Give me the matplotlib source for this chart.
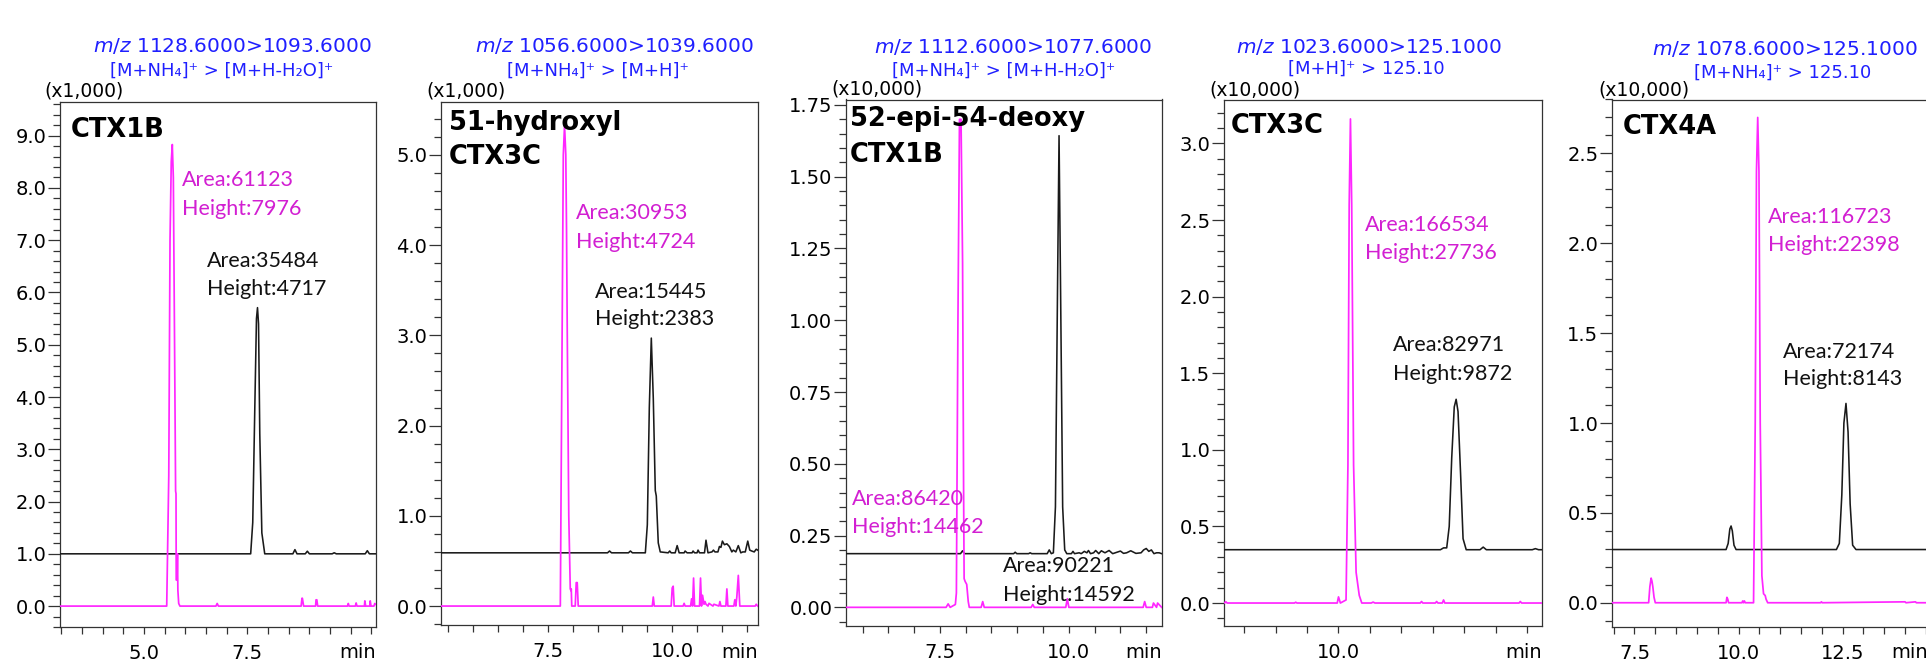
import matplotlib
matplotlib.use("Agg")
import matplotlib.pyplot as plt
from matplotlib.ticker import MultipleLocator, FixedLocator, FormatStrFormatter

plt.rcParams['font.family'] = ['DejaVu Sans']
plt.rcParams['mathtext.fontset'] = 'dejavusans'

# ---------------- data (time in min, intensity in axis units) ----------------
# Panel 1: CTX1B (x1,000)
p1_black_t = [2.97, 7.58, 7.63, 7.68, 7.72, 7.745, 7.77, 7.80, 7.85, 7.92, 8.60, 8.65, 8.70, 8.90, 8.95, 9.00,
              9.55, 9.60, 9.65, 10.35, 10.40, 10.45, 10.61]
p1_black_y = [1.0, 1.0, 1.6, 3.8, 5.5, 5.71, 5.4, 3.3, 1.4, 1.0, 1.0, 1.08, 1.0, 1.0, 1.05, 1.0,
              1.0, 1.02, 1.0, 1.0, 1.06, 1.0, 1.0]
p1_mag_t = [2.97, 5.55, 5.60, 5.63, 5.66, 5.685, 5.71, 5.74, 5.765, 5.775, 5.78, 5.80, 5.81, 5.82, 5.84, 5.87,
            6.74, 6.77, 6.80, 8.80, 8.82, 8.83, 8.86, 9.15, 9.16, 9.18, 9.20, 9.92, 9.94, 9.96, 10.11, 10.13,
            10.15, 10.33, 10.34, 10.36, 10.46, 10.47, 10.49, 10.56, 10.58, 10.61]
p1_mag_y = [0, 0, 2.5, 7.0, 8.5, 8.83, 8.2, 5.0, 2.2, 2.15, 0.5, 0.5, 1.0, 0.3, 0.05, 0,
            0, 0.05, 0, 0, 0.15, 0.15, 0, 0, 0.12, 0.12, 0, 0, 0.05, 0, 0, 0.06,
            0, 0, 0.1, 0, 0, 0.1, 0, 0, 0.05, 0.03]

# Panel 2: 51-hydroxyl CTX3C (x1,000)
p2_black_t = [5.35, 8.70, 8.74, 8.78, 9.12, 9.16, 9.20, 9.46, 9.50, 9.54, 9.58, 9.62, 9.66, 9.68, 9.72, 9.76,
              9.92, 9.95, 9.98, 10.06, 10.10, 10.14, 10.24, 10.26, 10.30, 10.40, 10.42, 10.45, 10.50, 10.52,
              10.55, 10.65, 10.68, 10.72, 10.80, 10.83, 10.86, 10.92, 10.95, 10.98, 11.01, 11.05, 11.10, 11.15,
              11.20, 11.23, 11.28, 11.33, 11.38, 11.42, 11.47, 11.52, 11.56, 11.60, 11.65, 11.69, 11.72]
p2_black_y = [0.59, 0.59, 0.61, 0.59, 0.59, 0.61, 0.59, 0.59, 0.9, 2.2, 2.97, 2.3, 1.28, 1.22, 0.7, 0.6,
              0.59, 0.61, 0.59, 0.59, 0.67, 0.59, 0.59, 0.61, 0.59, 0.59, 0.61, 0.59, 0.59, 0.62,
              0.59, 0.59, 0.73, 0.59, 0.6, 0.62, 0.6, 0.6, 0.66, 0.65, 0.72, 0.68, 0.69, 0.66,
              0.6, 0.62, 0.6, 0.67, 0.59, 0.60, 0.6, 0.72, 0.62, 0.61, 0.6, 0.63, 0.62]
p2_mag_t = [5.35, 7.75, 7.78, 7.81, 7.835, 7.86, 7.875, 7.89, 7.92, 7.95, 7.965, 7.97, 7.98, 8.05, 8.07, 8.09,
            8.11, 9.60, 9.62, 9.64, 9.98, 10.0, 10.02, 10.04, 10.22, 10.24, 10.26, 10.37, 10.39, 10.41, 10.43,
            10.45, 10.55, 10.57, 10.59, 10.61, 10.64, 10.66, 10.68, 10.72, 10.74, 10.82, 10.84, 10.94, 10.96,
            10.98, 11.08, 11.10, 11.12, 11.24, 11.26, 11.28, 11.30, 11.33, 11.36, 11.67, 11.69, 11.72]
p2_mag_y = [0, 0, 2.5, 5.0, 5.33, 5.0, 4.15, 3.0, 1.0, 0.19, 0.17, 0.19, 0, 0, 0.26, 0.26,
            0, 0, 0.1, 0, 0, 0.2, 0.22, 0, 0, 0.03, 0, 0, 0.08, 0, 0.31,
            0, 0, 0.31, 0, 0.12, 0.02, 0.05, 0.02, 0, 0.03, 0, 0.02, 0, 0.05,
            0, 0, 0.19, 0, 0, 0.07, 0, 0.1, 0.34, 0, 0, 0.02, 0]

# Panel 3: 52-epi-54-deoxy CTX1B (x10,000)
p3_black_t = [5.68, 7.90, 7.94, 7.98, 8.93, 8.96, 8.99, 9.22, 9.25, 9.28, 9.58, 9.62, 9.66, 9.70, 9.74, 9.78,
              9.81, 9.84, 9.88, 9.92, 9.96, 10.05, 10.08, 10.11, 10.2, 10.24, 10.3, 10.35, 10.38, 10.42, 10.48,
              10.52, 10.58, 10.63, 10.7, 10.78, 10.85, 10.9, 11.0, 11.06, 11.12, 11.2, 11.3, 11.4, 11.45, 11.5,
              11.55, 11.6, 11.65, 11.7, 11.75, 11.8]
p3_black_y = [0.187, 0.187, 0.197, 0.187, 0.187, 0.192, 0.187, 0.187, 0.19, 0.187, 0.187, 0.2, 0.187, 0.19,
              0.35, 1.1, 1.643, 1.1, 0.35, 0.2, 0.187, 0.187, 0.195, 0.187, 0.19, 0.187, 0.195, 0.19, 0.198,
              0.187, 0.19, 0.198, 0.187, 0.197, 0.19, 0.198, 0.187, 0.19, 0.196, 0.188, 0.19, 0.197, 0.188,
              0.19, 0.2, 0.205, 0.195, 0.2, 0.187, 0.19, 0.19, 0.187]
p3_mag_t = [5.68, 7.62, 7.66, 7.70, 7.80, 7.82, 7.85, 7.88, 7.91, 7.94, 7.96, 7.97, 7.99, 8.02, 8.05, 8.07,
            8.30, 8.33, 8.36, 9.27, 9.30, 9.33, 9.94, 9.97, 10.0, 11.44, 11.47, 11.50, 11.62, 11.64, 11.70,
            11.72, 11.80]
p3_mag_y = [0, 0, 0.012, 0, 0.01, 0.05, 1.0, 1.70, 1.70, 1.2, 0.4, 0.10, 0.09, 0.08, 0.02, 0,
            0, 0.02, 0, 0, 0.01, 0, 0, 0.03, 0, 0, 0.02, 0, 0, 0.015, 0, 0.015, 0]

# Panel 4: CTX3C (x10,000)
p4_black_t = [8.18, 11.62, 11.67, 11.72, 11.76, 11.80, 11.84, 11.87, 11.90, 11.94, 11.98, 12.03, 12.25, 12.30,
              12.35, 13.08, 13.13, 13.18, 13.23]
p4_black_y = [0.348, 0.348, 0.36, 0.36, 0.5, 0.95, 1.28, 1.33, 1.25, 0.85, 0.42, 0.348, 0.348, 0.365,
              0.348, 0.348, 0.355, 0.348, 0.348]
p4_mag_t = [8.18, 8.21, 8.23, 8.25, 9.30, 9.32, 9.34, 9.98, 10.0, 10.03, 10.12, 10.15, 10.17, 10.19, 10.21,
            10.24, 10.28, 10.33, 10.37, 10.52, 10.55, 10.58, 11.30, 11.32, 11.34, 11.54, 11.56, 11.58, 11.65,
            11.67, 11.69, 12.87, 12.89, 12.91, 13.23]
p4_mag_y = [0, 0.008, 0, 0, 0, 0.005, 0, 0, 0.04, 0, 0.02, 0.9, 2.6, 3.16, 2.6,
            0.9, 0.2, 0.05, 0, 0, 0.006, 0, 0, 0.01, 0, 0, 0.01, 0, 0,
            0.02, 0, 0, 0.01, 0, 0]

# Panel 5: CTX4A (x10,000)
p5_black_t = [6.96, 9.70, 9.75, 9.79, 9.82, 9.85, 9.89, 9.94, 12.35, 12.42, 12.48, 12.53, 12.58, 12.63, 12.68,
              12.74, 12.82, 14.55]
p5_black_y = [0.296, 0.296, 0.33, 0.41, 0.427, 0.40, 0.32, 0.296, 0.296, 0.33, 0.6, 1.0, 1.109, 0.95, 0.55,
              0.32, 0.296, 0.296]
p5_mag_t = [6.96, 7.84, 7.87, 7.90, 7.92, 7.94, 7.97, 8.00, 9.70, 9.72, 9.74, 9.76, 10.08, 10.10, 10.12, 10.14,
            10.16, 10.36, 10.40, 10.43, 10.46, 10.49, 10.52, 10.56, 10.60, 10.64, 10.66, 10.70, 11.97, 11.99,
            12.01, 14.0, 14.02, 14.25, 14.27, 14.55]
p5_mag_y = [0, 0, 0.09, 0.137, 0.12, 0.09, 0.03, 0, 0, 0.03, 0.02, 0, 0, 0.01, 0, 0.01,
            0, 0, 1.0, 2.4, 2.70, 2.4, 1.0, 0.15, 0.05, 0.04, 0.02, 0, 0, 0.005,
            0, 0.005, 0, 0.005, 0, 0]

# texts
titles_mz = [r"$\mathit{m/z}$ 1128.6000>1093.6000", r"$\mathit{m/z}$ 1056.6000>1039.6000",
             r"$\mathit{m/z}$ 1112.6000>1077.6000", r"$\mathit{m/z}$ 1023.6000>125.1000",
             r"$\mathit{m/z}$ 1078.6000>125.1000"]
titles_ion = ["[M+NH\u2084]\u207a > [M+H-H\u2082O]\u207a", "[M+NH\u2084]\u207a > [M+H]\u207a",
              "[M+NH\u2084]\u207a > [M+H-H\u2082O]\u207a", "[M+H]\u207a > 125.10",
              "[M+NH\u2084]\u207a > 125.10"]
scale_labels = ["(x1,000)", "(x1,000)", "(x10,000)", "(x10,000)", "(x10,000)"]
compound_names = [["CTX1B"], ["51-hydroxyl", "CTX3C"], ["52-epi-54-deoxy", "CTX1B"], ["CTX3C"], ["CTX4A"]]
mag_labels = [["Area:61123", "Height:7976"], ["Area:30953", "Height:4724"], ["Area:86420", "Height:14462"],
              ["Area:166534", "Height:27736"], ["Area:116723", "Height:22398"]]
black_labels = [["Area:35484", "Height:4717"], ["Area:15445", "Height:2383"], ["Area:90221", "Height:14592"],
                ["Area:82971", "Height:9872"], ["Area:72174", "Height:8143"]]
x_label_ticks = [[5.0, 7.5], [7.5, 10.0], [7.5, 10.0], [10.0], [7.5, 10.0, 12.5]]
x_lims = [(2.97, 10.61), (5.35, 11.72), (5.68, 11.80), (8.18, 13.23), (6.96, 14.55)]
y_lims = [(-0.40, 9.65), (-0.21, 5.59), (-0.065, 1.769), (-0.150, 3.287), (-0.135, 2.80)]
y_major = [1.0, 1.0, 0.25, 0.5, 0.5]
y_minor = [0.2, 0.2, 0.05, 0.1, 0.1]
y_fmt = ["%.1f", "%.1f", "%.2f", "%.1f", "%.1f"]

series = [(p1_black_t, p1_black_y, p1_mag_t, p1_mag_y),
          (p2_black_t, p2_black_y, p2_mag_t, p2_mag_y),
          (p3_black_t, p3_black_y, p3_mag_t, p3_mag_y),
          (p4_black_t, p4_black_y, p4_mag_t, p4_mag_y),
          (p5_black_t, p5_black_y, p5_mag_t, p5_mag_y)]

# ---------------- layout (pixels) ----------------
W, H = 1926, 665
boxes = [(60, 376, 101.7, 627), (441, 757.7, 101.7, 625), (846, 1161.7, 99.5, 626),
         (1224, 1541.7, 99.5, 626), (1612, 1928, 99.5, 627)]
title1_pos = [(232.5, 45.5), (614, 45.5), (1013, 46.6), (1369, 46.6), (1785, 49.0)]
title2_pos = [(221.7, 70.7), (597.5, 71), (1003.7, 71.2), (1366.7, 68.5), (1782.7, 72.5)]
scale_pos = [(84, 90.7), (465.8, 91), (876.7, 89), (1255, 89.8), (1643.5, 89.8)]
name_pos = [(71, [130]), (449, [122.9, 156.8]), (850, [119.5, 154.7]), (1231, [126.3]), (1622.5, [127.1])]
mag_pos = [(181.7, [180, 209]), (575.7, [213, 242.4]), (851.7, [498.7, 526.7]), (1365, [225.4, 253.4]),
           (1767.7, [216.9, 244.9])]
blk_pos = [(207.3, [261.4, 289.4]), (595, [291.5, 318.6]), (1003.3, [566.5, 595.3]), (1393.3, [345.3, 373.7]),
           (1782.7, [351.7, 379.2])]

BLUE = "#1f1fff"
MAG_LINE = "#ff26ff"
MAG_TEXT = "#d21fd2"
BLACK = "#1a1a1a"
TEXT_FONT = ["Lato", "DejaVu Sans"]
TICK_SIZE = 14

fig = plt.figure(figsize=(W / 100, H / 100), dpi=100)


def ftext(x, y, s, **kw):
    return fig.text(x / W, 1 - y / H, s, **kw)


for i in range(5):
    l, r, t, b = boxes[i]
    ax = fig.add_axes([l / W, 1 - b / H, (r - l) / W, (b - t) / H])
    bt, by, mt, my = series[i]
    ax.plot(bt, by, color=BLACK, lw=1.15, zorder=3)
    ax.plot(mt, my, color=MAG_LINE, lw=1.25, zorder=4)
    ax.set_xlim(*x_lims[i])
    ax.set_ylim(*y_lims[i])

    ax.xaxis.set_major_locator(FixedLocator(x_label_ticks[i]))
    ax.xaxis.set_minor_locator(MultipleLocator(0.5))
    ax.xaxis.set_major_formatter(FormatStrFormatter("%.1f"))
    ax.yaxis.set_major_locator(MultipleLocator(y_major[i]))
    ax.yaxis.set_minor_locator(MultipleLocator(y_minor[i]))
    ax.yaxis.set_major_formatter(FormatStrFormatter(y_fmt[i]))

    ax.tick_params(axis='y', which='major', direction='out', length=8.3, width=0.9, pad=1.5,
                   labelsize=TICK_SIZE, color="#333333", labelcolor="#000000")
    ax.tick_params(axis='y', which='minor', direction='out', length=4.7, width=0.9, color="#333333")
    ax.tick_params(axis='x', which='major', direction='out', length=4.7, width=0.9, pad=7.5,
                   labelsize=TICK_SIZE, color="#333333", labelcolor="#000000")
    ax.tick_params(axis='x', which='minor', direction='out', length=4.7, width=0.9, color="#333333")
    for sp in ax.spines.values():
        sp.set_color("#333333")
        sp.set_linewidth(0.9)

    # header texts
    x1, y1 = title1_pos[i]
    ftext(x1, y1, titles_mz[i], color=BLUE, fontsize=14.5, ha='center', va='center')
    x2, y2 = title2_pos[i]
    ftext(x2, y2, titles_ion[i], color=BLUE, fontsize=13, ha='center', va='center')
    xs, ys = scale_pos[i]
    ftext(xs, ys, scale_labels[i], color="#000000", fontsize=13.5, ha='center', va='center')

    nx, nys = name_pos[i]
    for line, yy in zip(compound_names[i], nys):
        ftext(nx, yy, line, fontsize=18.5, fontweight='bold', color='black', ha='left', va='center')

    mx, mys = mag_pos[i]
    for line, yy in zip(mag_labels[i], mys):
        ftext(mx, yy, line, fontsize=15.5, family=TEXT_FONT, color=MAG_TEXT, ha='left', va='center')
    kx, kys = blk_pos[i]
    for line, yy in zip(black_labels[i], kys):
        ftext(kx, yy, line, fontsize=15.5, family=TEXT_FONT, color='#111111', ha='left', va='center')

    ftext(r, 652, "min", fontsize=TICK_SIZE, color="#000000", ha='right', va='center')

fig.savefig("out.png", dpi=100)
